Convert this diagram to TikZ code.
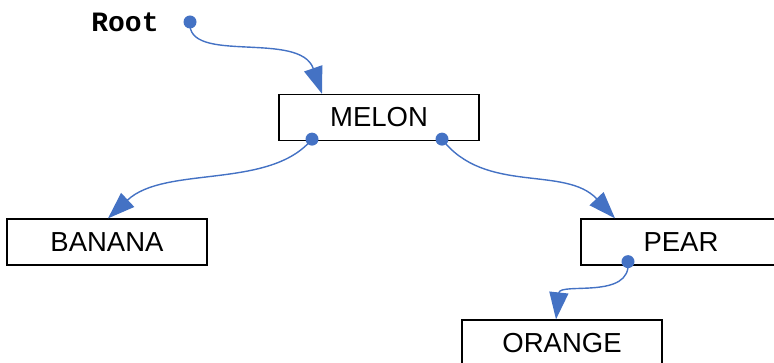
\documentclass[tikz,border=0pt]{standalone}
\usepackage{fontspec}
\setmainfont{Liberation Sans}
\newfontfamily\rootfont{Liberation Mono}
\usetikzlibrary{arrows.meta,calc}
\definecolor{linkblue}{HTML}{4472C4}
\tikzset{
  item/.style={draw=black, line width=1.3pt, minimum width=200pt, minimum height=46pt,
    inner sep=0pt, font=\fontsize{27.5}{30}\selectfont},
  link/.style={draw=linkblue, line width=1.4pt, -{Triangle[length=27pt,width=19pt]}},
  pin/.style={circle, fill=linkblue, inner sep=0pt, minimum size=13pt}
}
\begin{document}
\begin{tikzpicture}[x=1pt,y=-1pt]
\useasboundingbox (0,0) rectangle (774,363);
\clip (0,0) rectangle (774,363);
\node[font=\rootfont\bfseries\fontsize{28}{30}\selectfont, anchor=base] (rootlbl) at (125,32) {Root};
\node[item] (melon) at (379,117.5) {MELON};
\node[item] (banana) at (107,242) {BANANA};
\node[item] (pear) at (681,242) {PEAR};
\node[item] (orange) at (562,343) {ORANGE};
\node[pin] (p0) at (190,22) {};
\node[pin] (p1) at ($(melon.south)+(-67,-2)$) {};
\node[pin] (p2) at ($(melon.south)+(63,-2)$) {};
\node[pin] (p3) at ($(pear.south)+(-53,-4)$) {};
\draw[link] (p0.center) .. controls (186,65) and (300,30) .. ($(melon.north)+(-57,0)$);
\draw[link] (p1.center) .. controls (270,190) and (165,165) .. ($(banana.north)+(1,0)$);
\draw[link] (p2.center) .. controls (485,195) and (565,165) .. ($(pear.north)+(-66,0)$);
\draw[link] (p3.center) .. controls (632,300) and (560,282) .. ($(orange.north)+(-6,0)$);
\end{tikzpicture}
\end{document}
